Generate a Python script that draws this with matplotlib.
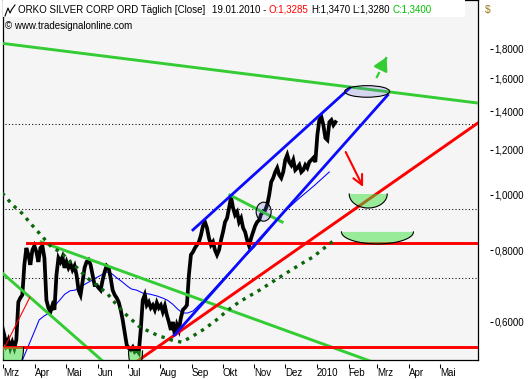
import numpy as np
import pandas as pd
import matplotlib
matplotlib.use('Agg')
import matplotlib.pyplot as plt
import matplotlib.dates as mdates
import matplotlib.transforms as mtransforms
from matplotlib.patches import Polygon, Ellipse, Rectangle
from matplotlib.lines import Line2D
from matplotlib.ticker import NullLocator, NullFormatter

plt.rcParams['font.family'] = ['Liberation Sans', 'DejaVu Sans']

# ---------------- data ----------------
instrument = "ORKO SILVER CORP ORD"
period = "Täglich [Close]"
quote_date = "19.01.2010"
quote_open, quote_high, quote_low, quote_close = 1.3285, 1.3470, 1.3280, 1.3400
source = "© www.tradesignalonline.com"
currency = "$"

close_first_date = '2009-02-28'
close_last_date = '2010-01-19'
close = [0.588, 0.569, 0.547, 0.558, 0.540, 0.553, 0.540, 0.558, 0.650, 0.661,
         0.669, 0.755, 0.808, 0.786, 0.755, 0.801, 0.815, 0.795, 0.764, 0.808,
         0.815, 0.776, 0.655, 0.635, 0.625, 0.642, 0.630, 0.725, 0.776, 0.764,
         0.779, 0.746, 0.764, 0.746, 0.758, 0.740, 0.752, 0.725, 0.682, 0.669,
         0.705, 0.746, 0.764, 0.770, 0.755, 0.725, 0.696, 0.696, 0.688, 0.682,
         0.710, 0.734, 0.752, 0.746, 0.716, 0.682, 0.669, 0.661, 0.650, 0.630,
         0.605, 0.576, 0.547, 0.540, 0.536, 0.542, 0.532, 0.536, 0.530, 0.581,
         0.655, 0.669, 0.642, 0.650, 0.635, 0.642, 0.630, 0.648, 0.635, 0.642,
         0.625, 0.640, 0.617, 0.600, 0.581, 0.600, 0.569, 0.593, 0.581, 0.610,
         0.630, 0.635, 0.642, 0.725, 0.786, 0.795, 0.808, 0.818, 0.828, 0.851,
         0.883, 0.897, 0.876, 0.841, 0.818, 0.828, 0.801, 0.786, 0.801, 0.834,
         0.862, 0.897, 0.911, 0.949, 0.992, 0.949, 0.923, 0.934, 0.897, 0.911,
         0.876, 0.862, 0.834, 0.815, 0.841, 0.862, 0.883, 0.897, 0.904, 0.926,
         0.934, 0.941, 0.961, 1.000, 1.054, 1.071, 1.097, 1.115, 1.084, 1.071,
         1.097, 1.151, 1.175, 1.142, 1.128, 1.151, 1.106, 1.115, 1.128, 1.097,
         1.106, 1.128, 1.115, 1.142, 1.151, 1.161, 1.142, 1.273, 1.352, 1.369,
         1.325, 1.258, 1.248, 1.341, 1.352, 1.325, 1.341]

ma_dates = ['2009-03-19', '2009-03-23', '2009-03-27', '2009-04-01', '2009-04-05',
            '2009-04-10', '2009-04-15', '2009-04-20', '2009-04-25', '2009-04-30',
            '2009-05-05', '2009-05-10', '2009-05-15', '2009-05-20', '2009-05-25',
            '2009-05-30', '2009-06-03', '2009-06-10', '2009-06-15', '2009-06-20',
            '2009-06-25', '2009-06-30', '2009-07-04', '2009-07-09', '2009-07-15',
            '2009-07-22', '2009-07-29', '2009-08-03', '2009-08-08', '2009-08-13',
            '2009-08-18', '2009-08-23', '2009-08-28', '2009-09-02', '2009-09-09',
            '2009-09-18', '2009-09-28', '2009-10-08', '2009-10-21', '2009-11-01',
            '2009-11-16', '2009-11-30', '2009-12-15', '2009-12-30', '2010-01-13']
ma_values = [0.511, 0.532, 0.553, 0.581, 0.605, 0.615, 0.622, 0.640, 0.655, 0.671,
             0.680, 0.682, 0.691, 0.699, 0.707, 0.716, 0.722, 0.734, 0.728, 0.716,
             0.705, 0.693, 0.685, 0.682, 0.674, 0.671, 0.666, 0.661, 0.655, 0.645,
             0.632, 0.622, 0.622, 0.627, 0.645, 0.671, 0.702, 0.734, 0.776, 0.811,
             0.872, 0.934, 0.988, 1.041, 1.097]

curve_dates = ['2009-02-28', '2009-03-10', '2009-03-19', '2009-03-29', '2009-04-05',
               '2009-04-17', '2009-04-27', '2009-05-05', '2009-05-12', '2009-05-22',
               '2009-05-31', '2009-06-10', '2009-06-18', '2009-06-27', '2009-07-12',
               '2009-07-29', '2009-08-12', '2009-08-22', '2009-09-02', '2009-09-13',
               '2009-09-25', '2009-10-05', '2009-10-17', '2009-11-06', '2009-11-26',
               '2009-12-15', '2009-12-28', '2010-01-13', '2010-01-18']
curve_values = [1.008, 0.961, 0.930, 0.886, 0.858, 0.811, 0.792, 0.764, 0.746, 0.716,
                0.696, 0.674, 0.648, 0.622, 0.588, 0.569, 0.558, 0.553, 0.567, 0.583,
                0.605, 0.627, 0.650, 0.682, 0.719, 0.755, 0.779, 0.821, 0.834]

green_top_dates = ['2009-03-01', '2010-06-08']
green_top_values = [1.840, 1.447]
green_mid_dates = ['2009-04-07', '2010-02-24']
green_mid_values = [0.828, 0.511]
green_low_dates = ['2009-03-01', '2009-06-09']
green_low_values = [0.728, 0.507]
green_short_dates = ['2009-10-08', '2009-11-28']
green_short_values = [1.000, 0.897]

red_high_dates = ['2009-03-24', '2010-06-08']
red_high_values = [0.824, 0.824]
red_low_dates = ['2009-03-01', '2010-06-08']
red_low_values = [0.542, 0.542]
red_thin_dates = ['2009-03-01', '2009-03-27']
red_thin_values = [0.536, 0.663]
red_diag_dates = ['2009-07-06', '2010-06-08']
red_diag_values = [0.507, 1.340]

channel_up_dates = ['2009-09-02', '2010-02-02']
channel_up_values = [0.869, 1.538]
channel_dn_dates = ['2009-08-15', '2010-03-11']
channel_dn_values = [0.569, 1.495]

level_dates = ['2009-03-03', '2010-06-08']
level_values = [1.331, 0.945, 0.716]

arrow_up_dates = ['2010-02-28', '2010-03-10']
arrow_up_values = [1.601, 1.742]
arrow_dn_dates = ['2010-01-29', '2010-02-15']
arrow_dn_values = [1.189, 1.033]

target_date, target_value = '2010-02-19', 1.517
circle_date, circle_value = '2009-11-10', 0.935
bowl_dates = ['2010-02-20', '2010-03-01', '2009-03-10', '2009-07-08']
bowl_values = [1.004, 0.862, 0.542, 0.534]

month_ticks = pd.date_range('2009-03-01', '2010-05-01', freq='MS')
month_labels = ['Mrz', 'Apr', 'Mai', 'Jun', 'Jul', 'Aug', 'Sep', 'Okt', 'Nov', 'Dez',
                '2010', 'Feb', 'Mrz', 'Apr', 'Mai']
price_ticks = [0.6, 0.8, 1.0, 1.2, 1.4, 1.6, 1.8]


def dn(d):
    return mdates.date2num(pd.to_datetime(d).values if not isinstance(d, str) else pd.Timestamp(d))


# ---------------- figure ----------------
W, H = 531, 380
fig = plt.figure(figsize=(W / 100, H / 100), dpi=100)
fig.patch.set_facecolor('white')
ax = fig.add_axes([3.3 / W, 20 / H, 474.7 / W, 360 / H])
ax.set_facecolor('#f5f5f5')
ax.set_yscale('log')
xmin = mdates.date2num(pd.Timestamp('2009-03-01'))
xmax = xmin + 463.1
ax.set_xlim(xmin, xmax)
ax.set_ylim(0.5148, 2.1917)
ax.tick_params(which='both', left=False, right=False, bottom=False, top=False,
               labelleft=False, labelbottom=False)
for s in ax.spines.values():
    s.set_color('black')
    s.set_linewidth(0.9)

GREEN = '#33cc33'
RED = '#ff0000'
BLUE = '#0a0aff'

# dotted levels
for v in level_values:
    ax.plot(dn(level_dates), [v, v], color='black', lw=0.75, ls=(0, (1, 2.2)), zorder=1)

# moving average
ax.plot(dn(ma_dates), ma_values, color='#0000ff', lw=0.75, zorder=2)

# price
cd = pd.date_range(close_first_date, close_last_date, periods=len(close))
ax.plot(mdates.date2num(cd.values), close, color='black', lw=2.7, zorder=3,
        solid_joinstyle='miter')

# lines
ax.plot(dn(green_top_dates), green_top_values, color=GREEN, lw=2.1, zorder=4)
ax.plot(dn(green_mid_dates), green_mid_values, color=GREEN, lw=2.1, zorder=4)
ax.plot(dn(green_low_dates), green_low_values, color=GREEN, lw=2.1, zorder=4)
ax.plot(dn(green_short_dates), green_short_values, color=GREEN, lw=2.1, zorder=4)
ax.plot(dn(red_high_dates), red_high_values, color=RED, lw=2.1, zorder=4)
ax.plot(dn(red_low_dates), red_low_values, color=RED, lw=2.1, zorder=4)
ax.plot(dn(red_thin_dates), red_thin_values, color=RED, lw=0.8, zorder=4)
ax.plot(dn(red_diag_dates), red_diag_values, color=RED, lw=2.1, zorder=4)
ax.plot(dn(channel_up_dates), channel_up_values, color=BLUE, lw=2.0, zorder=4)
ax.plot(dn(channel_dn_dates), channel_dn_values, color=BLUE, lw=2.0, zorder=4)
ax.plot(dn(curve_dates), curve_values, color='#0b650b', lw=2.4, ls=(0, (1, 1.6)), zorder=4)

# arrows: dashed green shaft with solid head, solid red arrow
ax.plot(dn(arrow_up_dates), arrow_up_values, color=GREEN, lw=1.6, ls=(0, (3, 1.5)), zorder=6)
ax.annotate('', xy=(dn(arrow_up_dates[1]), arrow_up_values[1]),
            xytext=(-3, -6), textcoords='offset points',
            arrowprops=dict(arrowstyle='-|>,head_length=0.8,head_width=0.45', color=GREEN,
                            lw=1.6, shrinkA=0, shrinkB=0, mutation_scale=10), zorder=6)
ax.annotate('', xy=(dn(arrow_dn_dates[1]), arrow_dn_values[1]),
            xytext=(dn(arrow_dn_dates[0]), arrow_dn_values[0]),
            arrowprops=dict(arrowstyle='->,head_length=0.7,head_width=0.35', color=RED,
                            lw=1.5, shrinkA=0, shrinkB=0, mutation_scale=10), zorder=6)


def at_point(d, v):
    return mtransforms.Affine2D() + mtransforms.ScaledTranslation(dn(d), v, ax.transData)


def bowl(d, v, hw, depth):
    t = np.linspace(np.pi, 2 * np.pi, 60)
    verts = np.column_stack([hw * np.cos(t), depth * np.sin(t)])
    tr = at_point(d, v)
    ax.add_patch(Polygon(verts, closed=True, transform=tr, facecolor=(0.24, 0.89, 0.24, 0.5),
                         edgecolor='none', zorder=5))
    ax.add_line(Line2D(verts[:, 0], verts[:, 1], transform=tr, color='black', lw=0.8, zorder=5))


bowl(bowl_dates[0], bowl_values[0], 19, 14)
bowl(bowl_dates[1], bowl_values[1], 36, 12)
bowl(bowl_dates[2], bowl_values[2], 11, 25)
bowl(bowl_dates[3], bowl_values[3], 7, 20)

ax.add_patch(Ellipse((0, 0), 45, 11.6, transform=at_point(target_date, target_value),
                     facecolor=(0.4, 0.4, 0.86, 0.22), edgecolor='black', lw=0.8, zorder=5))
ax.add_patch(Ellipse((0, 0), 15, 19, transform=at_point(circle_date, circle_value),
                     facecolor=(0.4, 0.4, 0.86, 0.22), edgecolor='black', lw=0.8, zorder=5))

ax.set_xlim(xmin, xmax)
ax.set_ylim(0.5148, 2.1917)

# ---------------- axes ticks ----------------
secx = ax.secondary_xaxis(-4 / 360)
secx.set_xticks(mdates.date2num(month_ticks.values), labels=month_labels)
secx.spines['bottom'].set_visible(False)
secx.tick_params(direction='out', length=2.9, width=0.75, pad=0.3, labelsize=7,
                 colors='black')
for lab in secx.get_xticklabels():
    lab.set_horizontalalignment('left')

secy = ax.secondary_yaxis(1 + 12 / 474.7)
secy.set_yticks(price_ticks, labels=[f"{v:.4f}".replace('.', ',') for v in price_ticks])
secy.yaxis.set_minor_locator(NullLocator())
secy.yaxis.set_minor_formatter(NullFormatter())
secy.spines['right'].set_visible(False)
secy.tick_params(direction='out', length=2.2, width=0.75, pad=1.2, labelsize=7,
                 colors='black')

# ---------------- header ----------------
fig.add_artist(Rectangle((3.3 / W, 1 - 17 / H), (465 - 3.3) / W, 17 / H,
                         transform=fig.transFigure, facecolor='white', edgecolor='none',
                         zorder=5))
fig.add_artist(Line2D(np.array([5, 8, 10, 12, 15]) / W, 1 - np.array([16, 8, 13, 9, 5]) / H,
                      transform=fig.transFigure, color='black', lw=0.8, zorder=6))

fmt = lambda v: f"{v:.4f}".replace('.', ',')
parts = [(f"{instrument} {period}", 'black', 7),
         (f"{quote_date} -", 'black', 2.5),
         (f"O:{fmt(quote_open)}", '#ff0000', 2.5),
         (f"H:{fmt(quote_high)}", 'black', 2.5),
         (f"L:{fmt(quote_low)}", 'black', 2.5),
         (f"C:{fmt(quote_close)}", '#00c000', 0)]
renderer = fig.canvas.get_renderer()
xpos = 17.5
for txt, col, gap in parts:
    t = fig.text(xpos / W, 1 - 10 / H, txt, color=col, fontsize=7, ha='left', va='center',
                 zorder=7)
    bb = t.get_window_extent(renderer)
    xpos = bb.x1 + gap

fig.text(5 / W, 1 - 26 / H, source, color='black', fontsize=7, ha='left', va='center',
         zorder=7)
fig.text(485 / W, 1 - 10 / H, currency, color='#a07818', fontsize=7.5, ha='left',
         va='center', zorder=7)

fig.savefig('out.png', dpi=100, facecolor='white')
